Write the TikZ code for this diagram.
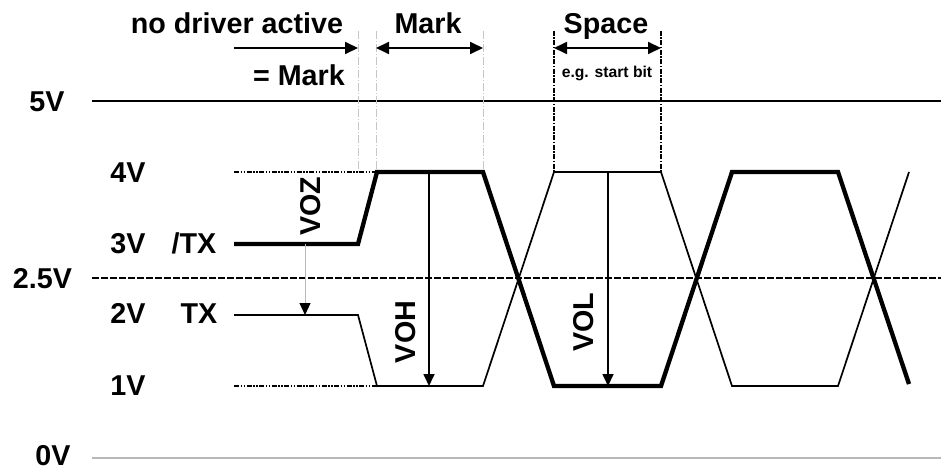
\documentclass[tikz,border=0pt]{standalone}
\usepackage{fontspec}
\setmainfont{Liberation Sans}
\usetikzlibrary{arrows.meta}
\begin{document}
\begin{tikzpicture}[x=1pt,y=-1pt,
  lbl/.style={font=\bfseries\fontsize{28.7}{34}\selectfont, inner sep=0pt, text height=20.5pt, text depth=0pt},
  smalllbl/.style={font=\bfseries\fontsize{15.7}{18}\selectfont, inner sep=0pt, text height=11.2pt, text depth=0pt},
  thickw/.style={line width=4.3pt, line join=miter, line cap=butt},
  thinw/.style={line width=1.7pt, line join=miter},
  levelguide/.style={line width=1.3pt, dash pattern=on 5pt off 1.5pt on 1.5pt off 1.5pt on 1.5pt off 1.5pt},
  midline/.style={line width=1.5pt, dash pattern=on 7pt off 2pt},
  grayguide/.style={draw=black!22, line width=0.8pt, dash pattern=on 8pt off 2pt on 1pt off 2pt},
  spaceguide/.style={line width=1.3pt, dash pattern=on 5pt off 1.5pt on 1.5pt off 1.5pt},
  arr/.style={line width=1.8pt, -{Triangle[length=13pt,width=12pt]}},
  darr/.style={line width=1.8pt, {Triangle[length=13pt,width=12pt]}-{Triangle[length=13pt,width=12pt]}},
]
\useasboundingbox (0,0) rectangle (941,470);

% rails
\coordinate (r5a) at (92,101);  \coordinate (r5b) at (941,101);
\coordinate (r0a) at (92,458);  \coordinate (r0b) at (941,458);
\coordinate (rma) at (92,278);  \coordinate (rmb) at (941,278);
\draw[line width=1.8pt] (r5a) -- (r5b);
\draw[black!28, line width=1.3pt] (r0a) -- (r0b);
\draw[midline] (rma) -- (rmb);

% level guides
\coordinate (g4a) at (234,172); \coordinate (g4b) at (377,172);
\coordinate (g1a) at (234,386); \coordinate (g1b) at (377,386);
\draw[levelguide] (g4a) -- (g4b);
\draw[levelguide] (g1a) -- (g1b);

% vertical guides
\coordinate (v1t) at (358,31); \coordinate (v1b) at (358,172);
\coordinate (v2t) at (376,31); \coordinate (v2b) at (376,172);
\coordinate (v3t) at (483,31); \coordinate (v3b) at (483,172);
\coordinate (s1t) at (554,31); \coordinate (s1b) at (554,172);
\coordinate (s2t) at (661,31); \coordinate (s2b) at (661,172);
\draw[grayguide] (v1t) -- (v1b);
\draw[grayguide] (v2t) -- (v2b);
\draw[grayguide] (v3t) -- (v3b);
\draw[spaceguide] (s1t) -- (s1b);
\draw[spaceguide] (s2t) -- (s2b);

% /TX waveform (thick)
\coordinate (a0) at (234,244); \coordinate (a1) at (358,244);
\coordinate (a2) at (377,172); \coordinate (a3) at (483,172);
\coordinate (a4) at (554,386); \coordinate (a5) at (661,386);
\coordinate (a6) at (732,172); \coordinate (a7) at (838,172);
\coordinate (a8) at (909,384);
\draw[thickw] (a0) -- (a1) -- (a2) -- (a3) -- (a4) -- (a5) -- (a6) -- (a7) -- (a8);

% TX waveform (thin)
\coordinate (b0) at (234,315); \coordinate (b1) at (358,315);
\coordinate (b2) at (377,386); \coordinate (b3) at (483,386);
\coordinate (b4) at (554,172); \coordinate (b5) at (661,172);
\coordinate (b6) at (732,386); \coordinate (b7) at (838,386);
\coordinate (b8) at (909,172);
\draw[thinw] (b0) -- (b1) -- (b2) -- (b3) -- (b4) -- (b5) -- (b6) -- (b7) -- (b8);

% top arrows
\coordinate (n1) at (234,48); \coordinate (n2) at (358,48);
\coordinate (m1) at (376,48); \coordinate (m2) at (483,48);
\coordinate (p1) at (554,48); \coordinate (p2) at (661,48);
\draw[arr] (n1) -- (n2);
\draw[darr] (m1) -- (m2);
\draw[darr] (p1) -- (p2);

% voltage arrows
\coordinate (z1) at (305,244); \coordinate (z2) at (305,315);
\coordinate (h1) at (429,172); \coordinate (h2) at (429,386);
\coordinate (l1) at (608,172); \coordinate (l2) at (608,386);
\draw[black!28, line width=1pt, -{Triangle[length=12pt,width=11pt,color=black]}] (z1) -- (z2);
\draw[line width=1.7pt, -{Triangle[length=12pt,width=11pt]}] (h1) -- (h2);
\draw[line width=1.7pt, -{Triangle[length=12pt,width=11pt]}] (l1) -- (l2);

% labels
\node[lbl] (t5) at (47,101) {5V};
\node[lbl] (t4) at (128,172) {4V};
\node[lbl] (t3) at (128,243) {3V};
\node[lbl] (tntx) at (194,243) {/TX};
\node[lbl] (t25) at (42.5,278) {2.5V};
\node[lbl] (t2) at (128,313) {2V};
\node[lbl] (ttx) at (199,313) {TX};
\node[lbl] (t1) at (128,385) {1V};
\node[lbl] (t0) at (53,455) {0V};

\node[lbl] (nda) at (237,23) {no driver active};
\node[lbl, anchor=east] (eqm) at (345,75) {= Mark};
\node[lbl] (mk) at (428,23) {Mark};
\node[lbl] (sp) at (606,23) {Space};
\node[smalllbl] (eg) at (607,71.5) {e.g. start bit};

\node[lbl, rotate=90] (voz) at (310,206) {VOZ};
\node[lbl, rotate=90] (voh) at (405,332) {VOH};
\node[lbl, rotate=90] (vol) at (583,322) {VOL};
\end{tikzpicture}
\end{document}
